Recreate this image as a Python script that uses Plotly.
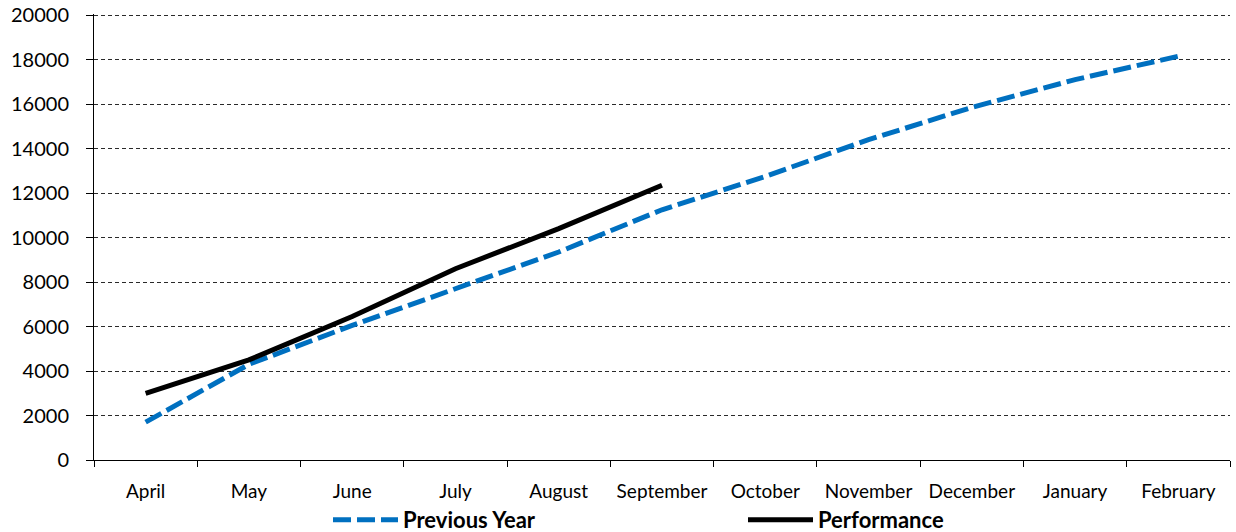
import plotly.graph_objects as go

months = ["April", "May", "June", "July", "August", "September",
          "October", "November", "December", "January", "February"]
previous_year = [1700, 4300, 6050, 7700, 9350, 11250, 12750, 14400, 15850, 17100, 18150]
performance = [3000, 4500, 6450, 8600, 10400, 12350, None, None, None, None, None]
y_ticks = [0, 2000, 4000, 6000, 8000, 10000, 12000, 14000, 16000, 18000, 20000]

FONT = "Lato"

fig = go.Figure()
fig.add_trace(go.Scatter(
    x=months, y=previous_year, name="Previous Year", mode="lines",
    line=dict(color="#0070C0", width=5, dash="18px,6px"),
))
fig.add_trace(go.Scatter(
    x=months, y=performance, name="Performance", mode="lines",
    line=dict(color="#000000", width=5), connectgaps=False,
))

fig.update_layout(
    width=1236, height=532,
    margin=dict(l=94, r=6, t=14, b=72),
    paper_bgcolor="white", plot_bgcolor="white",
    font=dict(family=FONT, size=19, color="black"),
    showlegend=True,
    legend=dict(
        orientation="h", xref="container", yref="container",
        x=328 / 1236, xanchor="left", y=12 / 532, yanchor="middle",
        font=dict(family=FONT, size=22, color="black", weight="bold"),
        entrywidth=335, entrywidthmode="pixels", itemwidth=65,
        bgcolor="rgba(0,0,0,0)",
    ),
)
fig.update_xaxes(
    type="category", categoryorder="array", categoryarray=months,
    range=[-0.5, len(months) - 0.5], automargin=False,
    showline=True, linecolor="black", linewidth=1,
    ticks="outside", tickson="boundaries", ticklen=6, tickcolor="black", tickwidth=1,
    showgrid=False, zeroline=False, ticklabelstandoff=14, tickangle=0,
    tickfont=dict(family=FONT, size=19, color="black"),
)
fig.update_yaxes(
    range=[0, 20050], tickvals=y_ticks, ticktext=[str(v) for v in y_ticks],
    automargin=False,
    showline=True, linecolor="black", linewidth=1,
    ticks="outside", ticklen=7, tickcolor="black", tickwidth=1,
    showgrid=True, gridcolor="#2a2a2a", gridwidth=1, griddash="4px,3px",
    zeroline=False, ticklabelstandoff=13,
    tickfont=dict(family=FONT, size=20, color="black"),
)

fig.write_html("out.html")
